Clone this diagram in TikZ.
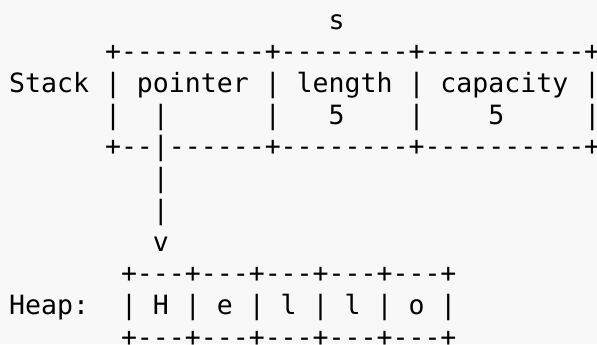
\documentclass[tikz,border=0pt]{standalone}
\usepackage{fontspec}
\setmonofont{DejaVu Sans Mono}[Ligatures=TeXOff]
\usepackage{xcolor}
\usetikzlibrary{positioning}
\definecolor{paper}{HTML}{F8F8F8}

\begin{document}
\begin{tikzpicture}[
    x=0.75pt, y=-0.75pt,
    ascii/.style={inner sep=0pt, outer sep=0pt, anchor=base west, text height=16.5pt, text depth=7.3pt, font=\fontsize{19.9}{24}\selectfont\ttfamily}
]
\fill[paper] (0,0) rectangle (597,344);
\useasboundingbox (0,0) rectangle (597,344);
\node[ascii] (l0) at (9.2,29) {~~~~~~~~~~~~~~~~~~~~s};
\node[ascii, below=0pt of l0.south west, anchor=north west] (l1) {~~~~~~+---------+--------+----------+};
\node[ascii, below=0pt of l1.south west, anchor=north west] (l2) {Stack~|~pointer~|~length~|~capacity~|};
\node[ascii, below=0pt of l2.south west, anchor=north west] (l3) {~~~~~~|~~|~~~~~~|~~~5~~~~|~~~~5~~~~~|};
\node[ascii, below=0pt of l3.south west, anchor=north west] (l4) {~~~~~~+--|------+--------+----------+};
\node[ascii, below=0pt of l4.south west, anchor=north west] (l5) {~~~~~~~~~|};
\node[ascii, below=0pt of l5.south west, anchor=north west] (l6) {~~~~~~~~~|};
\node[ascii, below=0pt of l6.south west, anchor=north west] (l7) {~~~~~~~~~v};
\node[ascii, below=0pt of l7.south west, anchor=north west] (l8) {~~~~~~~+---+---+---+---+---+};
\node[ascii, below=0pt of l8.south west, anchor=north west] (l9) {Heap:~~|~H~|~e~|~l~|~l~|~o~|};
\node[ascii, below=0pt of l9.south west, anchor=north west] (l10) {~~~~~~~+---+---+---+---+---+};
\end{tikzpicture}
\end{document}
